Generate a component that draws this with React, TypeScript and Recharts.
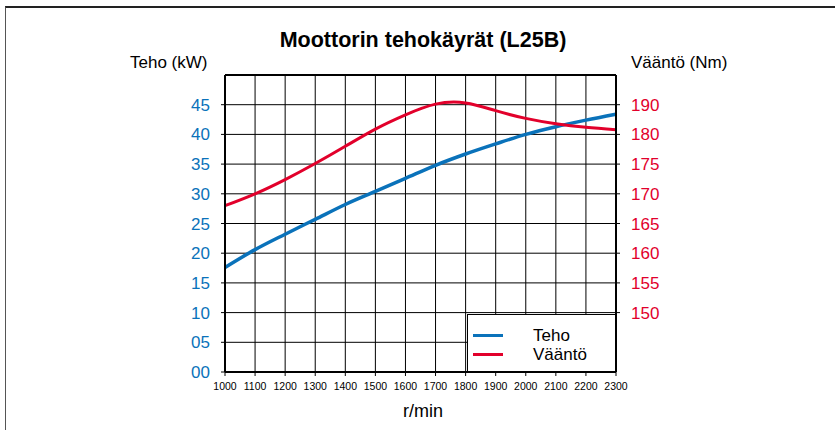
import { CartesianGrid, Legend, Line, LineChart, ReferenceLine, XAxis, YAxis } from "recharts";

const rpm = [1000, 1100, 1200, 1300, 1400, 1500, 1600, 1700, 1800, 1900, 2000, 2100, 2200, 2300];
const teho = [17.6, 20.6, 23.2, 25.7, 28.2, 30.4, 32.6, 34.8, 36.7, 38.4, 40.0, 41.3, 42.4, 43.4];
const vaanto = [168.0, 170.0, 172.4, 175.1, 178.0, 180.9, 183.3, 185.1, 185.3, 184.0, 182.7, 181.8, 181.2, 180.8];

const tehoTicks = [0, 5, 10, 15, 20, 25, 30, 35, 40, 45];
const tehoTickLabels = ["00", "05", "10", "15", "20", "25", "30", "35", "40", "45"];
const vaantoTicks = [150, 155, 160, 165, 170, 175, 180, 185];
const vaantoTickLabels = ["150", "155", "160", "165", "170", "175", "180", "190"];

const data = rpm.map((r, i) => ({ rpm: r, teho: teho[i], vaanto: vaanto[i] }));

const BLUE = "#0a72ba";
const RED = "#e2002b";
const FONT = '"Liberation Sans", Arial, Helvetica, sans-serif';

function LegendBox({ payload }: any) {
  return (
    <div
      style={{
        width: 149,
        height: 58,
        boxSizing: "border-box",
        background: "#fff",
        border: "1.5px solid #000",
        fontFamily: FONT,
        fontSize: 17,
        color: "#000",
        paddingTop: 11,
      }}
    >
      {(payload || []).map((p: any) => (
        <div key={p.value} style={{ display: "flex", alignItems: "center", height: 19 }}>
          <span style={{ display: "inline-block", width: 30, height: 3.5, background: p.color, marginLeft: 5, marginRight: 30 }} />
          <span>{p.value}</span>
        </div>
      ))}
    </div>
  );
}

export default function App() {
  return (
    <div style={{ position: "absolute", left: 0, top: 0, width: 835, height: 430, background: "#fff", fontFamily: FONT }}>
      <div
        style={{
          position: "absolute",
          left: 5,
          top: 6,
          width: 830,
          height: 424,
          boxSizing: "border-box",
          borderTop: "2px solid #222",
          borderLeft: "1.5px solid #555",
        }}
      />
      <div style={{ position: "absolute", left: 0, width: 846, top: 28, textAlign: "center", fontSize: 21.5, fontWeight: "bold" }}>
        Moottorin tehokäyrät (L25B)
      </div>
      <div style={{ position: "absolute", left: 130, top: 53, fontSize: 17 }}>Teho (kW)</div>
      <div style={{ position: "absolute", left: 631, top: 53, fontSize: 17 }}>Vääntö (Nm)</div>
      <div style={{ position: "absolute", left: 0, width: 846, top: 401, textAlign: "center", fontSize: 18 }}>r/min</div>

      <LineChart width={835} height={430} data={data} margin={{ top: 75, right: 159, bottom: 28, left: 165 }}>
        <CartesianGrid yAxisId="kw" stroke="#000" strokeWidth={1} />
        <XAxis
          dataKey="rpm"
          type="number"
          domain={[1000, 2300]}
          ticks={rpm}
          interval={0}
          height={30}
          tickSize={4}
          tickMargin={7}
          tick={{ fill: "#000", fontSize: 10.5, fontFamily: FONT }}
          axisLine={{ stroke: "#000", strokeWidth: 2 }}
          tickLine={{ stroke: "#000" }}
        />
        <YAxis
          yAxisId="kw"
          domain={[0, 50]}
          ticks={tehoTicks}
          interval={0}
          width={60}
          tickSize={4}
          tickMargin={11}
          tickFormatter={(v: number) => tehoTickLabels[tehoTicks.indexOf(v)]}
          tick={{ fill: BLUE, fontSize: 17, fontFamily: FONT }}
          axisLine={{ stroke: "#000", strokeWidth: 2 }}
          tickLine={{ stroke: "#000" }}
        />
        <YAxis
          yAxisId="nm"
          orientation="right"
          domain={[140, 190]}
          ticks={vaantoTicks}
          interval={0}
          width={60}
          tickSize={4}
          tickMargin={11}
          tickFormatter={(v: number) => vaantoTickLabels[vaantoTicks.indexOf(v)]}
          tick={{ fill: RED, fontSize: 17, fontFamily: FONT }}
          axisLine={{ stroke: "#000", strokeWidth: 2 }}
          tickLine={{ stroke: "#000" }}
        />
        <ReferenceLine yAxisId="kw" y={50} stroke="#000" strokeWidth={2} />
        <Line yAxisId="kw" dataKey="teho" name="Teho" type="monotone" stroke={BLUE} strokeWidth={3.5} dot={false} isAnimationActive={false} />
        <Line yAxisId="nm" dataKey="vaanto" name="Vääntö" type="natural" stroke={RED} strokeWidth={3} dot={false} isAnimationActive={false} />
        <Legend
          layout="vertical"
          align="center"
          verticalAlign="middle"
          wrapperStyle={{ left: 467, top: 314, width: 149, height: 58 }}
          content={<LegendBox />}
        />
      </LineChart>
    </div>
  );
}
